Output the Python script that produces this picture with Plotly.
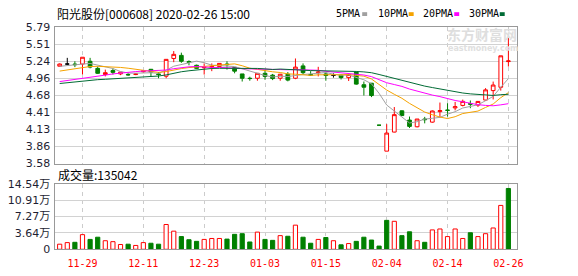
import plotly.graph_objects as go

W, H = 578, 276

# ---------------- data ----------------
dates = [
    "2019-11-26", "2019-11-27", "2019-11-28", "2019-11-29",
    "2019-12-02", "2019-12-03", "2019-12-04", "2019-12-05", "2019-12-06",
    "2019-12-09", "2019-12-10", "2019-12-11", "2019-12-12", "2019-12-13",
    "2019-12-16", "2019-12-17", "2019-12-18", "2019-12-19", "2019-12-20",
    "2019-12-23", "2019-12-24", "2019-12-25", "2019-12-26", "2019-12-27",
    "2019-12-30", "2019-12-31",
    "2020-01-02", "2020-01-03", "2020-01-06", "2020-01-07", "2020-01-08",
    "2020-01-09", "2020-01-10", "2020-01-13", "2020-01-14", "2020-01-15",
    "2020-01-16", "2020-01-17", "2020-01-20", "2020-01-21", "2020-01-22",
    "2020-01-23",
    "2020-02-03", "2020-02-04", "2020-02-05", "2020-02-06", "2020-02-07",
    "2020-02-10", "2020-02-11", "2020-02-12", "2020-02-13", "2020-02-14",
    "2020-02-17", "2020-02-18", "2020-02-19", "2020-02-20", "2020-02-21",
    "2020-02-24", "2020-02-25", "2020-02-26",
]

open_ = [5.155, 5.19, 5.19, 5.19, 5.235, 5.12, 5.02, 5.085, 5.03, 5.02,
         5.02, 5.065, 5.105, 5.03, 4.993, 5.28, 5.33, 5.23, 5.17, 5.13,
         5.14, 5.15, 5.19, 5.135, 5.03, 4.96, 4.96, 5.04, 5.01, 4.96,
         5.025, 4.96, 5.16, 5.02, 5.05, 5.03, 5.005, 5.01, 4.97, 5.06,
         4.855, 4.88, 4.20, 3.78, 4.089, 4.433, 4.283, 4.175, 4.30, 4.25,
         4.42, 4.445, 4.48, 4.52, 4.55, 4.525, 4.607, 4.76, 4.814, 5.23]
high = [5.20, 5.29, 5.235, 5.30, 5.29, 5.15, 5.10, 5.12, 5.06, 5.045,
        5.04, 5.085, 5.11, 5.06, 5.27, 5.40, 5.374, 5.25, 5.18, 5.20,
        5.20, 5.20, 5.235, 5.14, 5.03, 4.985, 5.04, 5.09, 5.03, 5.03,
        5.06, 5.28, 5.20, 5.075, 5.145, 5.06, 5.04, 5.02, 5.02, 5.065,
        4.907, 4.88, 4.20, 4.217, 4.494, 4.44, 4.34, 4.30, 4.335, 4.44,
        4.567, 4.556, 4.577, 4.614, 4.60, 4.59, 4.80, 4.906, 5.323, 5.61]
low = [5.15, 5.18, 5.14, 5.02, 5.12, 5.03, 4.99, 5.02, 5.01, 5.0,
       5.01, 5.05, 4.99, 4.96, 4.96, 5.22, 5.21, 5.17, 5.11, 5.02,
       5.075, 5.14, 5.10, 5.04, 4.907, 4.92, 4.92, 4.935, 4.93, 4.92,
       4.91, 4.945, 5.02, 5.0, 4.99, 4.92, 4.97, 4.94, 4.915, 4.855,
       4.68, 4.655, 4.20, 3.78, 4.085, 4.35, 4.155, 4.165, 4.23, 4.24,
       4.325, 4.34, 4.44, 4.505, 4.475, 4.495, 4.60, 4.617, 4.76, 5.15]
close = [5.19, 5.19, 5.18, 5.30, 5.14, 5.04, 5.05, 5.055, 5.06, 5.015,
         5.03, 5.08, 5.06, 5.02, 5.266, 5.347, 5.235, 5.215, 5.12, 5.14,
         5.15, 5.20, 5.18, 5.075, 4.96, 4.955, 5.04, 4.99, 4.955, 5.025,
         4.93, 5.14, 5.05, 5.01, 5.06, 5.005, 5.005, 4.97, 5.02, 4.865,
         4.815, 4.68, 4.20, 4.073, 4.371, 4.356, 4.181, 4.30, 4.29, 4.43,
         4.435, 4.44, 4.50, 4.586, 4.54, 4.585, 4.772, 4.85, 5.323, 5.24]
volume = [11300, 14800, 15500, 32500, 21900, 26800, 19000, 16900, 10600, 11300,
          8500, 14800, 13400, 11300, 55000, 40200, 28200, 21200, 17600, 21900,
          24000, 24000, 22600, 33200, 34600, 16200, 38100, 21900, 19800, 30300,
          28900, 53600, 26800, 13400, 21900, 26100, 19000, 9900, 12700, 17600,
          26800, 20500, 7100, 64200, 62100, 30300, 38800, 19000, 15500, 43000,
          45100, 28200, 45100, 24000, 36700, 28200, 34600, 47300, 97400, 135042]

# moving-average values before enough in-window closes exist
ma5_head = [5.153, 5.168, 5.179, 5.189]
ma10_head = [5.076, 5.096, 5.119, 5.139, 5.150, 5.153, 5.150, 5.145, 5.135]
ma20_head = [4.906, 4.922, 4.937, 4.954, 4.973, 4.991, 5.011, 5.030, 5.045, 5.059,
             5.068, 5.076, 5.081, 5.085, 5.093, 5.115, 5.135, 5.145, 5.150]
ma30_head = [4.875, 4.889, 4.905, 4.919, 4.929, 4.937, 4.943, 4.951, 4.957, 4.963,
             4.971, 4.977, 4.985, 4.996, 5.014, 5.042, 5.065, 5.081, 5.094, 5.107,
             5.118, 5.121, 5.122, 5.122, 5.125, 5.127, 5.119, 5.111, 5.102]

price_min, price_max = 3.58, 5.79
price_ticks = ["3.58", "3.86", "4.13", "4.41", "4.68", "4.96", "5.24", "5.51", "5.79"]
vol_max = 145400
vol_ticks = ["0", "3.64万", "7.27万", "10.91万", "14.54万"]
x_tick_dates = ["2019-11-29", "2019-12-11", "2019-12-23", "2020-01-03",
                "2020-01-15", "2020-02-04", "2020-02-14", "2020-02-26"]
title_text = "阳光股份[000608] 2020-02-26 15:00"
vol_title = "成交量:135042"
ma_names = ["5PMA", "10PMA", "20PMA", "30PMA"]

# ---------------- helpers ----------------
def px(x):
    return x / W

def py(y):
    return 1 - y / H

n = len(dates)

def ma(values, k, head):
    out = list(head)
    for i in range(k - 1, len(values)):
        out.append(sum(values[i - k + 1:i + 1]) / k)
    return out

ma_series = [ma(close, 5, ma5_head), ma(close, 10, ma10_head),
             ma(close, 20, ma20_head), ma(close, 30, ma30_head)]
ma_colors = ["#a0a0a0", "#f5a300", "#ff00ff", "#006b35"]

# candle class
cls = []
for i in range(n):
    o, c = open_[i], close[i]
    if c > o:
        cls.append("up")
    elif c < o:
        cls.append("down")
    else:
        prev = close[i - 1] if i > 0 else c
        cls.append("up" if c > prev else ("down" if c < prev else "flat"))

vol_up = [close[i] >= (close[i - 1] if i > 0 else open_[i]) for i in range(n)]

RED = "#ff0000"
GREEN = "#008000"

fig = go.Figure()

for name, color, fill in [("up", RED, "#ffffff"), ("down", GREEN, GREEN), ("flat", "#000000", "#000000")]:
    idx = [i for i in range(n) if cls[i] == name]
    if not idx:
        continue
    fig.add_trace(go.Candlestick(
        x=[dates[i] for i in idx],
        open=[open_[i] for i in idx], high=[high[i] for i in idx],
        low=[low[i] for i in idx], close=[close[i] for i in idx],
        increasing=dict(line=dict(color=color, width=1), fillcolor=fill),
        decreasing=dict(line=dict(color=color, width=1), fillcolor=fill),
        whiskerwidth=0, xaxis="x", yaxis="y", showlegend=False, hoverinfo="skip",
    ))

for vals, col in zip(ma_series, ma_colors):
    fig.add_trace(go.Scatter(x=dates, y=vals, mode="lines",
                             line=dict(color=col, width=1),
                             xaxis="x", yaxis="y", showlegend=False, hoverinfo="skip"))

fig.add_trace(go.Bar(
    x=dates, y=volume, width=0.55,
    marker=dict(color=["#ffffff" if u else GREEN for u in vol_up],
                line=dict(color=[RED if u else GREEN for u in vol_up], width=1)),
    xaxis="x2", yaxis="y2", showlegend=False, hoverinfo="skip",
))

x_left, x_right = 56, 522.7
xrange = [-0.56, n - 1 + 1.17]
common_x = dict(type="category", categoryorder="array", categoryarray=dates,
                range=xrange, tickvals=x_tick_dates,
                ticktext=[d[5:] for d in x_tick_dates],
                showgrid=True, gridcolor="#cccccc", griddash="4px,4px", gridwidth=1,
                showline=True, linecolor="#999999", linewidth=1, mirror=True,
                ticks="", zeroline=False, fixedrange=True,
                domain=[px(x_left), px(x_right)])

axis_font = dict(family="DejaVu Sans, Noto Sans CJK SC", size=11, color="#1e1e32")

step_p = (price_max - price_min) / (len(price_ticks) - 1)
step_v = vol_max / (len(vol_ticks) - 1)

fig.update_layout(
    width=W, height=H, margin=dict(l=0, r=0, t=0, b=0),
    paper_bgcolor="white", plot_bgcolor="white", showlegend=False,
    xaxis=dict(common_x, anchor="y", showticklabels=False, rangeslider=dict(visible=False)),
    xaxis2=dict(common_x, anchor="y2", showticklabels=True,
                tickfont=dict(family="DejaVu Sans Mono", size=10, color=RED),
                ticklabelstandoff=5),
    yaxis=dict(domain=[py(165.3), py(22)], range=[price_min, price_max],
               tickvals=[price_min + k * step_p for k in range(len(price_ticks))],
               ticktext=price_ticks, tickfont=axis_font,
               showgrid=True, gridcolor="#d2d2d2", gridwidth=1,
               showline=True, linecolor="#999999", linewidth=1, mirror=True,
               zeroline=False, anchor="x", fixedrange=True, ticklabelstandoff=2),
    yaxis2=dict(domain=[py(255.3), py(186.6)], range=[0, vol_max],
                tickvals=[k * step_v for k in range(len(vol_ticks))],
                ticktext=vol_ticks, tickfont=axis_font,
                showgrid=True, gridcolor="#d2d2d2", gridwidth=1,
                showline=True, linecolor="#999999", linewidth=1, mirror=True,
                zeroline=False, anchor="x2", fixedrange=True, ticklabelstandoff=2),
)

ann = []
ann.append(dict(text=title_text, x=px(56), y=py(7.5), xanchor="left", yanchor="middle",
                font=dict(family="Noto Sans CJK SC", size=12, color="#000000")))
ann.append(dict(text=vol_title, x=px(57), y=py(177), xanchor="left", yanchor="middle",
                font=dict(family="Noto Sans CJK SC", size=12, color="#000000")))

legend_x = [338, 380, 425, 472]
square_x = [366, 413, 459, 505]
shapes = []
for name, lx, sx, col in zip(ma_names, legend_x, square_x, ma_colors):
    ann.append(dict(text=name, x=px(lx), y=py(8), xanchor="left", yanchor="middle",
                    font=dict(family="DejaVu Sans Mono", size=10, color="#000000")))
    shapes.append(dict(type="rect", xref="paper", yref="paper",
                       x0=px(sx), x1=px(sx + 5), y0=py(10.5), y1=py(6.5),
                       fillcolor=col, line=dict(width=0)))

# watermark
ann.append(dict(text="<b>东方财富网</b>", x=px(487), y=py(29.5), xanchor="center", yanchor="middle",
                font=dict(family="Noto Sans CJK SC", size=14, color="#dedede")))
ann.append(dict(text="<b>eastmoney.com</b>", x=px(488), y=py(45), xanchor="center", yanchor="middle",
                font=dict(family="DejaVu Sans", size=8, color="#e0e0e0")))

for a in ann:
    a.update(xref="paper", yref="paper", showarrow=False)

fig.update_layout(annotations=ann, shapes=shapes)

fig.write_html("out.html")
